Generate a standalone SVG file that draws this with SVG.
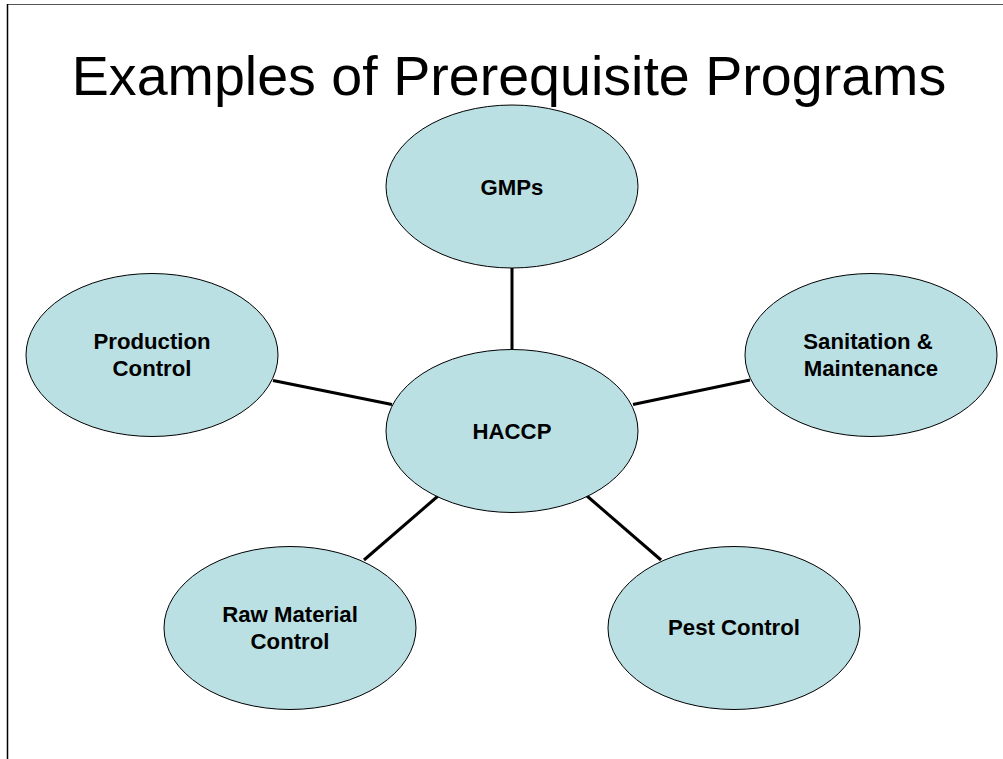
<svg xmlns="http://www.w3.org/2000/svg" width="1003" height="759" viewBox="0 0 1003 759">
<style>
.node ellipse{fill:#BBE0E3;stroke:#000;stroke-width:1}
.lbl{font-family:"Liberation Sans",Arial,sans-serif;font-weight:bold;font-size:22.2px;text-anchor:middle;fill:#000}
.conn line{stroke:#000;stroke-width:3}
</style>
<rect width="1003" height="759" fill="#fff"/>
<line x1="7.5" y1="4.5" x2="1003" y2="4.5" stroke="#555" stroke-width="1"/>
<line x1="7.5" y1="4" x2="7.5" y2="759" stroke="#000" stroke-width="1.5"/>
<text x="509" y="95" font-family="Liberation Sans,Arial,sans-serif" font-size="55.6" text-anchor="middle" fill="#000">Examples of Prerequisite Programs</text>
<g id="connectors" class="conn">
<line x1="512" y1="268" x2="512" y2="350"/>
<line x1="273" y1="380.5" x2="392" y2="404.5"/>
<line x1="633" y1="404.5" x2="750" y2="380"/>
<line x1="364" y1="560" x2="438" y2="496"/>
<line x1="587" y1="496" x2="661" y2="560"/>
</g>
<g id="gmps" class="node"><ellipse cx="512" cy="186.5" rx="126" ry="81.5"/><text class="lbl" x="512" y="194.5">GMPs</text></g>
<g id="haccp" class="node"><ellipse cx="512" cy="431" rx="126" ry="81.5"/><text class="lbl" x="512" y="439">HACCP</text></g>
<g id="production" class="node"><ellipse cx="152" cy="355" rx="126" ry="81.5"/><text class="lbl" x="152" y="349">Production</text><text class="lbl" x="152" y="375.5">Control</text></g>
<g id="sanitation" class="node"><ellipse cx="871" cy="355" rx="126" ry="81.5"/><text class="lbl" x="868" y="349">Sanitation &amp;</text><text class="lbl" x="871" y="375.5">Maintenance</text></g>
<g id="rawmaterial" class="node"><ellipse cx="290" cy="628" rx="126" ry="81.5"/><text class="lbl" x="290" y="622">Raw Material</text><text class="lbl" x="290" y="648.5">Control</text></g>
<g id="pest" class="node"><ellipse cx="734" cy="628" rx="126" ry="81.5"/><text class="lbl" x="734" y="635">Pest Control</text></g>
</svg>
